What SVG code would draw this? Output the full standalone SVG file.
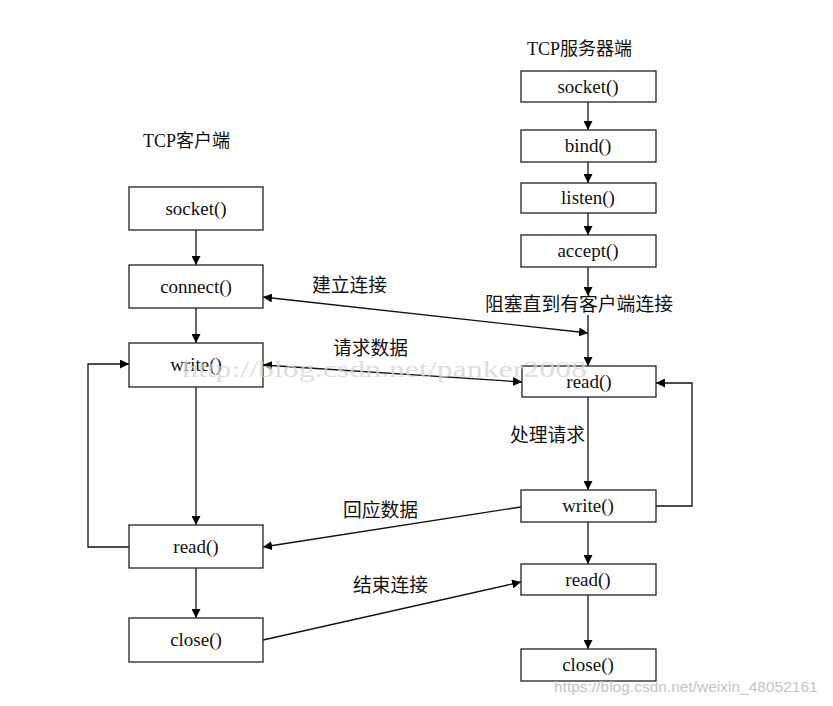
<svg xmlns="http://www.w3.org/2000/svg" width="833" height="706" viewBox="0 0 833 706">
<defs>
<marker id="ah" viewBox="0 0 10 10" refX="10" refY="5" markerWidth="9" markerHeight="9" markerUnits="userSpaceOnUse" orient="auto-start-reverse">
<path d="M0,0 L10,5 L0,10 z" fill="#000"/>
</marker>
<style>
.box{fill:#fff;stroke:#222;stroke-width:1.3}
.bt{font-family:"Liberation Serif","Noto Serif",serif;font-size:19px;fill:#111;text-anchor:middle}
.lbl{font-family:"Noto Sans CJK SC","Noto Sans",sans-serif;font-size:18.75px;fill:#111}
.ttl{font-family:"Liberation Serif","Noto Sans CJK SC",serif;font-size:18px;fill:#111}
.ln{stroke:#111;stroke-width:1.3;fill:none}
.wm{font-family:"Liberation Serif",serif;font-size:24px;fill:#d4d4d4;fill-opacity:0.8}
.wm2{font-family:"Liberation Sans",sans-serif;font-size:15.5px;fill:#c4c4c4}
</style>
</defs>
<rect width="833" height="706" fill="#fff"/>
<g id="connectors">
<line class="ln" x1="196" y1="230" x2="196" y2="265" marker-end="url(#ah)"/>
<line class="ln" x1="196" y1="308" x2="196" y2="343" marker-end="url(#ah)"/>
<line class="ln" x1="196" y1="387" x2="196" y2="525" marker-end="url(#ah)"/>
<line class="ln" x1="196" y1="568" x2="196" y2="618" marker-end="url(#ah)"/>
<polyline class="ln" points="129,547 88,547 88,364 129,364" marker-end="url(#ah)"/>
<line class="ln" x1="588" y1="102" x2="588" y2="130" marker-end="url(#ah)"/>
<line class="ln" x1="588" y1="162" x2="588" y2="183" marker-end="url(#ah)"/>
<line class="ln" x1="588" y1="213" x2="588" y2="235" marker-end="url(#ah)"/>
<line class="ln" x1="588" y1="267" x2="588" y2="296" marker-end="url(#ah)"/>
<line class="ln" x1="588" y1="314" x2="588" y2="366" marker-end="url(#ah)"/>
<line class="ln" x1="588" y1="397" x2="588" y2="490" marker-end="url(#ah)"/>
<line class="ln" x1="588" y1="522" x2="588" y2="564" marker-end="url(#ah)"/>
<line class="ln" x1="588" y1="595" x2="588" y2="649" marker-end="url(#ah)"/>
<polyline class="ln" points="656,506 692,506 692,383 656,383" marker-end="url(#ah)"/>
<line class="ln" x1="263" y1="297" x2="588" y2="333" marker-start="url(#ah)" marker-end="url(#ah)"/>
<line class="ln" x1="263" y1="365" x2="522" y2="382" marker-start="url(#ah)" marker-end="url(#ah)"/>
<line class="ln" x1="521" y1="507" x2="263" y2="547" marker-end="url(#ah)"/>
<line class="ln" x1="263" y1="640" x2="521" y2="582" marker-end="url(#ah)"/>
</g>
<g id="client-title"><text class="ttl" x="143" y="147">TCP客户端</text></g>
<g id="server-title"><text class="ttl" x="527" y="55">TCP服务器端</text></g>
<g id="c-socket"><rect class="box" x="129" y="187" width="134" height="43"/><text class="bt" x="196" y="215">socket()</text></g>
<g id="c-connect"><rect class="box" x="129" y="265" width="134" height="43"/><text class="bt" x="196" y="293">connect()</text></g>
<g id="c-write"><rect class="box" x="129" y="343" width="134" height="44"/><text class="bt" x="196" y="371">write()</text></g>
<g id="c-read"><rect class="box" x="129" y="525" width="134" height="43"/><text class="bt" x="196" y="553">read()</text></g>
<g id="c-close"><rect class="box" x="129" y="618" width="134" height="44"/><text class="bt" x="196" y="646">close()</text></g>
<g id="s-socket"><rect class="box" x="521" y="71" width="135" height="31"/><text class="bt" x="588" y="93">socket()</text></g>
<g id="s-bind"><rect class="box" x="521" y="130" width="135" height="32"/><text class="bt" x="588" y="152">bind()</text></g>
<g id="s-listen"><rect class="box" x="521" y="183" width="135" height="30"/><text class="bt" x="588" y="204">listen()</text></g>
<g id="s-accept"><rect class="box" x="521" y="235" width="135" height="32"/><text class="bt" x="588" y="257">accept()</text></g>
<g id="s-read"><rect class="box" x="522" y="366" width="134" height="31"/><text class="bt" x="589" y="388">read()</text></g>
<g id="s-write"><rect class="box" x="521" y="490" width="135" height="32"/><text class="bt" x="588" y="512">write()</text></g>
<g id="s-read2"><rect class="box" x="521" y="564" width="135" height="31"/><text class="bt" x="588" y="586">read()</text></g>
<g id="s-close"><rect class="box" x="521" y="649" width="135" height="32"/><text class="bt" x="588" y="671">close()</text></g>
<g id="labels">
<text class="lbl" x="312" y="292">建立连接</text>
<rect x="483" y="295" width="192" height="20" fill="#fff"/>
<text class="lbl" x="485" y="311" textLength="188" lengthAdjust="spacingAndGlyphs">阻塞直到有客户端连接</text>
<text class="lbl" x="333" y="355">请求数据</text>
<text class="lbl" x="510" y="442">处理请求</text>
<text class="lbl" x="343" y="517">回应数据</text>
<text class="lbl" x="353" y="592">结束连接</text>
</g>
<text class="wm" x="182" y="377" textLength="405" lengthAdjust="spacingAndGlyphs">http://blog.csdn.net/panker2008</text>
<text class="wm2" x="554" y="692">https://blog.csdn.net/weixin_48052161</text>
</svg>
